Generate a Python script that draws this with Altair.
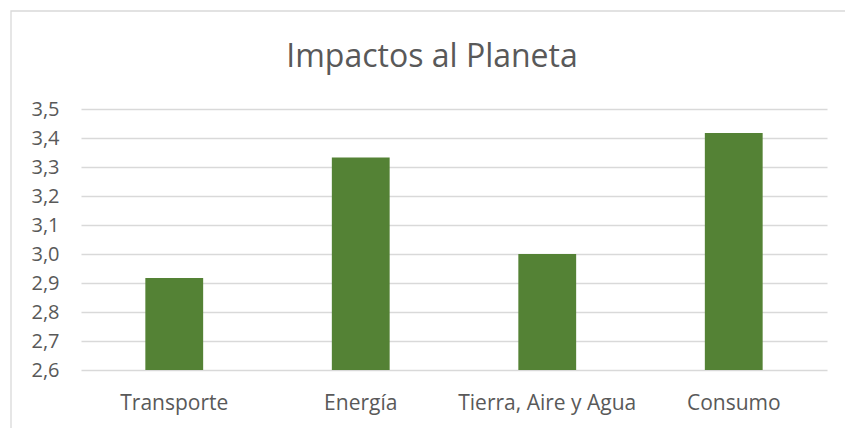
import altair as alt
import pandas as pd

categories = ["Transporte", "Energía", "Tierra, Aire y Agua", "Consumo"]
values = [2.917, 3.333, 3.0, 3.417]
title_text = "Impactos al Planeta"

df = pd.DataFrame({"cat": categories, "val": values})

FONT = "Open Sans"
GRAY = "#595959"

bars = alt.Chart(df).mark_bar(color="#548235").encode(
    x=alt.X("cat:N", sort=categories, title=None,
            scale=alt.Scale(paddingInner=0.69, paddingOuter=0.345),
            axis=alt.Axis(labelAngle=0, labelFontSize=21, labelColor=GRAY,
                          labelFont=FONT, ticks=False, domain=False,
                          labelPadding=22, grid=False)),
    y=alt.Y("val:Q", title=None,
            scale=alt.Scale(domain=[2.6, 3.5], nice=False, zero=False),
            axis=alt.Axis(values=[2.6, 2.7, 2.8, 2.9, 3.0, 3.1, 3.2, 3.3, 3.4, 3.5],
                          format=".1f", labelFontSize=20, labelColor=GRAY,
                          labelFont=FONT, ticks=False, domain=False,
                          labelPadding=22, gridColor="#d9d9d9", gridWidth=1.3)),
    y2=alt.datum(2.6),
)

border = alt.Chart(pd.DataFrame({"a": [0]})).mark_rect(
    fill=None, stroke="#d9d9d9", strokeWidth=1.3
).encode(
    x=alt.value(-70), x2=alt.value(800), y=alt.value(-98), y2=alt.value(360)
)

title = alt.Chart(pd.DataFrame({"t": [title_text]})).mark_text(
    font=FONT, fontSize=32, color=GRAY, align="center", baseline="alphabetic"
).encode(text="t:N", x=alt.value(351), y=alt.value(-42))

chart = alt.layer(border, bars, title).properties(
    width=746, height=261,
    padding={"left": 81, "top": 109, "right": 18, "bottom": 58},
    autosize=alt.AutoSizeParams(type="none"),
).configure(
    locale={"number": {"decimal": ",", "thousands": ".", "grouping": [3],
                       "currency": ["", " €"]}}
).configure_view(stroke=None)

chart.save("out.html", embed_options={"renderer": "svg", "actions": False})
